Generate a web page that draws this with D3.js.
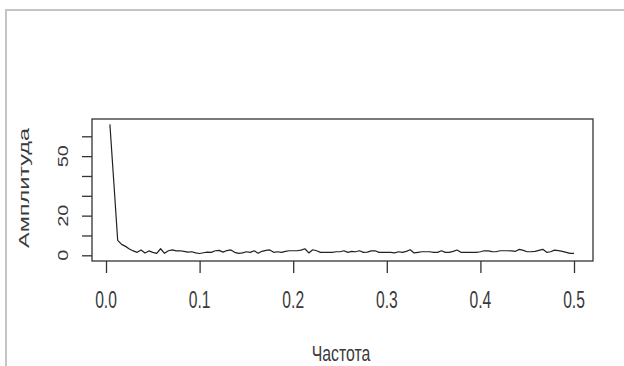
<!DOCTYPE html>
<html><head><meta charset="utf-8">
<script src="https://cdn.jsdelivr.net/npm/d3@7"></script>
<style>html,body{margin:0;padding:0;background:#fff;}svg{display:block;}</style>
</head><body>
<svg id="c" width="624" height="366"></svg>
<script>
// Spectrum: amplitude at frequency k/240, k = 1..120
const amplitude = [
 66, 37, 7.5, 5.5, 4.5, 3.2, 2.2, 1.5, 2.7, 1.2, 2.2, 1.5, 1.0, 3.3, 1.0, 2.3, 2.7, 2.2, 2.3, 2.0,
 1.6, 1.8, 1.2, 0.9, 1.3, 1.6, 1.5, 2.3, 2.5, 1.6, 2.4, 2.7, 1.5, 1.0, 1.2, 1.8, 1.5, 2.3, 1.0, 2.0,
 2.5, 2.7, 1.5, 1.8, 1.5, 2.0, 2.3, 2.3, 2.3, 2.6, 3.3, 1.2, 2.8, 2.3, 1.5, 1.5, 1.5, 1.5, 1.8, 1.8,
 2.3, 1.5, 2.0, 1.8, 2.3, 1.5, 1.6, 2.2, 2.3, 1.5, 1.5, 1.5, 1.5, 1.2, 1.8, 1.5, 2.0, 2.8, 1.2, 1.5,
 1.8, 1.8, 1.8, 1.5, 1.5, 2.3, 1.5, 1.5, 2.0, 2.7, 1.5, 1.5, 1.5, 1.5, 1.5, 1.8, 2.3, 2.2, 1.9, 1.8,
 2.3, 2.3, 2.3, 2.2, 2.0, 3.0, 2.5, 1.8, 1.8, 2.0, 2.5, 3.0, 1.5, 1.8, 2.6, 2.4, 2.0, 1.5, 1.0, 1.0
];
const nSeries = 240;
const xTicks = [0, 0.1, 0.2, 0.3, 0.4, 0.5];
const yTicks = [0, 10, 20, 30, 40, 50, 60];
const yTickLabels = {0: "0", 20: "20", 50: "50"};
const xTitle = "Частота";
const yTitle = "Амплитуда";

const data = amplitude.map((a, i) => ({f: (i + 1) / nSeries, a}));

const svg = d3.select("#c");
const box = {l: 92, r: 593, t: 119, b: 261};
const x = d3.scaleLinear().domain([0, 0.5]).range([106, 574]);
const y = d3.scaleLinear().domain([0, 60]).range([255.3, 136.3]);
const ff = "Liberation Sans, Arial, sans-serif", txtCol = "#3a3a3a";

// outer gray frame
svg.append("path").attr("d", "M6,366 L6,10 L624,10")
  .attr("fill", "none").attr("stroke", "#c4c4c4").attr("stroke-width", 2);

// plot box
svg.append("rect").attr("x", box.l).attr("y", box.t)
  .attr("width", box.r - box.l).attr("height", box.b - box.t)
  .attr("fill", "none").attr("stroke", "#333").attr("stroke-width", 1.3);

// x axis
const xAxis = svg.append("g").attr("transform", `translate(0,${box.b})`)
  .call(d3.axisBottom(x).tickValues(xTicks).tickSize(12).tickFormat(""));
xAxis.select(".domain").remove();
xAxis.selectAll("line").attr("stroke", "#333").attr("stroke-width", 1.3);
xTicks.forEach(t => {
  svg.append("text").attr("transform", `translate(${x(t)},308) scale(0.68,1)`)
    .attr("text-anchor", "middle").attr("font-family", ff)
    .attr("font-size", 23).attr("fill", txtCol).text(d3.format(".1f")(t));
});

// y axis
const yAxis = svg.append("g").attr("transform", `translate(${box.l},0)`)
  .call(d3.axisLeft(y).tickValues(yTicks).tickSize(10).tickFormat(""));
yAxis.select(".domain").remove();
yAxis.selectAll("line").attr("stroke", "#333").attr("stroke-width", 1.3);
yTicks.filter(t => yTickLabels[t] !== undefined).forEach(t => {
  svg.append("text").attr("transform", `translate(68,${y(t)}) scale(0.7,1) rotate(-90)`)
    .attr("text-anchor", "middle").attr("font-family", ff)
    .attr("font-size", 20).attr("fill", txtCol).text(yTickLabels[t]);
});

// titles
svg.append("text").attr("transform", `translate(341,361) scale(0.72,1)`)
  .attr("text-anchor", "middle").attr("font-family", ff)
  .attr("font-size", 22).attr("fill", txtCol).text(xTitle);
svg.append("text").attr("transform", `translate(29,188) scale(0.66,1) rotate(-90)`)
  .attr("text-anchor", "middle").attr("font-family", ff)
  .attr("font-size", 23.5).attr("fill", txtCol).text(yTitle);

// spectrum line
svg.append("path").datum(data)
  .attr("d", d3.line().x(d => x(d.f)).y(d => y(d.a)))
  .attr("fill", "none").attr("stroke", "#222").attr("stroke-width", 1.2)
  .attr("stroke-linejoin", "round");
</script>
</body></html>
